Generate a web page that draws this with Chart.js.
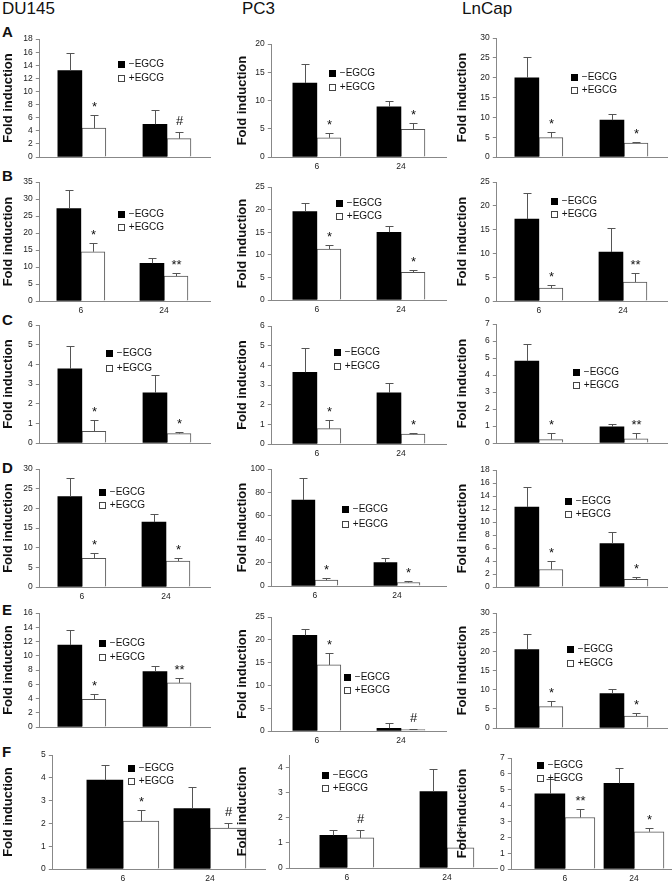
<!DOCTYPE html>
<html><head><meta charset="utf-8">
<script src="https://cdn.jsdelivr.net/npm/chart.js@4"></script>
<style>
body{margin:0;width:672px;height:891px;background:#fff;position:relative;overflow:hidden;font-family:Arial,"Liberation Sans",Helvetica,sans-serif;}
.t{position:absolute;color:#111;white-space:nowrap;line-height:1;}
canvas{position:absolute;}
</style></head><body>
<script>
// ---------- DATA ----------
const categories = ['6', '24'];
const seriesNames = ['\u2212EGCG', '+EGCG'];
const yTitle = 'Fold induction';
const cellLines = ['DU145', 'PC3', 'LnCap'];
const rowLetters = ['A', 'B', 'C', 'D', 'E', 'F'];

// values: [6 h, 24 h]; Err = error bar length; ticks = [max, step]
const A_DU145_minus=[13.2,5.0], A_DU145_minusErr=[2.7,2.2], A_DU145_plus=[4.4,2.8], A_DU145_plusErr=[2.0,1.0], A_DU145_marks=['*','#'], A_DU145_ticks=[18,2];
const A_PC3_minus=[13.1,8.9], A_PC3_minusErr=[3.3,1.0], A_PC3_plus=[3.4,4.9], A_PC3_plusErr=[0.8,1.1], A_PC3_marks=['*','*'], A_PC3_ticks=[20,5];
const A_LnCap_minus=[20.0,9.3], A_LnCap_minusErr=[5.2,1.5], A_LnCap_plus=[4.9,3.5], A_LnCap_plusErr=[1.3,0.3], A_LnCap_marks=['*','*'], A_LnCap_ticks=[30,5];

const B_DU145_minus=[27.2,11.1], B_DU145_minusErr=[5.4,1.5], B_DU145_plus=[14.5,7.3], B_DU145_plusErr=[2.5,0.9], B_DU145_marks=['*','**'], B_DU145_ticks=[35,5];
const B_PC3_minus=[19.6,15.0], B_PC3_minusErr=[1.8,1.4], B_PC3_plus=[11.3,6.1], B_PC3_plusErr=[0.9,0.6], B_PC3_marks=['*','*'], B_PC3_ticks=[25,5];
const B_LnCap_minus=[17.2,10.3], B_LnCap_minusErr=[5.6,5.1], B_LnCap_plus=[2.7,4.0], B_LnCap_plusErr=[0.7,1.9], B_LnCap_marks=['*','**'], B_LnCap_ticks=[25,5];

const C_DU145_minus=[3.77,2.55], C_DU145_minusErr=[1.16,0.93], C_DU145_plus=[0.6,0.48], C_DU145_plusErr=[0.55,0.07], C_DU145_marks=['*','*'], C_DU145_ticks=[6,1];
const C_PC3_minus=[3.65,2.6], C_PC3_minusErr=[1.22,0.5], C_PC3_plus=[0.78,0.5], C_PC3_plusErr=[0.42,0.07], C_PC3_marks=['*','*'], C_PC3_ticks=[6,1];
const C_LnCap_minus=[4.82,0.95], C_LnCap_minusErr=[0.98,0.15], C_LnCap_plus=[0.2,0.25], C_LnCap_plusErr=[0.4,0.35], C_LnCap_marks=['*','**'], C_LnCap_ticks=[7,1];

const D_DU145_minus=[23.0,16.5], D_DU145_minusErr=[4.7,2.1], D_DU145_plus=[7.3,6.6], D_DU145_plusErr=[1.3,0.7], D_DU145_marks=['*','*'], D_DU145_ticks=[30,5];
const D_PC3_minus=[73.5,20.0], D_PC3_minusErr=[19.0,4.0], D_PC3_plus=[5.0,3.0], D_PC3_plusErr=[2.0,1.0], D_PC3_marks=['*','*'], D_PC3_ticks=[100,20];
const D_LnCap_minus=[12.3,6.7], D_LnCap_minusErr=[3.1,1.7], D_LnCap_plus=[2.7,1.2], D_LnCap_plusErr=[1.3,0.3], D_LnCap_marks=['*','*'], D_LnCap_ticks=[18,2];

const E_DU145_minus=[11.5,7.8], E_DU145_minusErr=[2.1,0.8], E_DU145_plus=[3.9,6.2], E_DU145_plusErr=[0.8,0.7], E_DU145_marks=['*','**'], E_DU145_ticks=[16,2];
const E_PC3_minus=[21.0,0.6], E_PC3_minusErr=[1.3,1.1], E_PC3_plus=[14.5,0.3], E_PC3_plusErr=[2.7,0.1], E_PC3_marks=['*','#'], E_PC3_ticks=[25,5];
const E_LnCap_minus=[20.5,9.0], E_LnCap_minusErr=[4.0,1.2], E_LnCap_plus=[5.6,3.1], E_LnCap_plusErr=[1.4,0.9], E_LnCap_marks=['*','*'], E_LnCap_ticks=[30,5];

const F_DU145_minus=[3.9,2.65], F_DU145_minusErr=[0.65,0.95], F_DU145_plus=[2.1,1.8], F_DU145_plusErr=[0.5,0.2], F_DU145_marks=['*','#'], F_DU145_ticks=[5,1];
const F_PC3_minus=[1.3,3.05], F_PC3_minusErr=[0.2,0.9], F_PC3_plus=[1.2,0.8], F_PC3_plusErr=[0.3,0.3], F_PC3_marks=['#','*'], F_PC3_ticks=[4.5,1];
const F_LnCap_minus=[4.75,5.4], F_LnCap_minusErr=[0.9,0.95], F_LnCap_plus=[3.25,2.35], F_LnCap_plusErr=[0.55,0.25], F_LnCap_marks=['**','*'], F_LnCap_ticks=[7,1];

// ---------- LAYOUT (page pixels) ----------
// [axisLeft, axisRight, center6, center24, yTopPx, yZeroPx, titleCenterX, legendBoxX, legendY1, legendY2, barWidth]
const GEOM = [
 [[40,210,82,167,39,157,9,118,63.5,77.5,24],[272,446,317,401,44,157,243,329,72.5,87,24],[497,667,539,624,38,157,463,571,76.5,89.5,24]],
 [[40,210,81,164,182,301,9,118,213.5,226.5,24],[272,446,317,401,187,300,243,336,202.5,215.5,24],[497,667,539,623,182,301,463,551,200.5,213.5,24]],
 [[40,210,82,167,325,443,9,106,352.5,367.5,24],[272,446,317,401,326,444,243,334,352,365.5,24],[497,667,539,624,324,443,463,573,371.5,384.5,24]],
 [[40,210,82,166,469,587,9,99,491.5,504.5,24],[272,446,315,397,469,586,243,342,509,524,23],[497,667,539,624,470,587,463,565,500.5,513.5,24]],
 [[40,210,82,167,613,727,9,99,643,657,24],[272,446,317,401,617,731,243,344,677,690,24],[497,667,539,624,613,728,463,567,649,663,24]],
 [[53,265,123,210,755,869,9,128,768,781,36],[290,497,347,447,755,868,243,322,775,788,27],[512,671,565,634,758,869,463,537,765,778,30]]
];
const ROW_LETTER_Y = [24, 168, 312, 460, 602, 744];
const COL_TITLE_X = [2, 242, 462];

Chart.defaults.font.family = 'Arial, "Liberation Sans", Helvetica, sans-serif';

function txt(s, x, y, size, bold){
  const d=document.createElement('div'); d.className='t'; d.textContent=s;
  d.style.left=x+'px'; d.style.top=y+'px'; d.style.fontSize=size+'px'; if(bold) d.style.fontWeight='bold';
  document.body.appendChild(d);
}
cellLines.forEach((c,i)=>txt(c, COL_TITLE_X[i], 0, 17, false));
rowLetters.forEach((r,i)=>txt(r, 2, ROW_LETTER_Y[i], 15, true));

const extras = {
  id:'extras',
  afterDatasetsDraw(chart, args, o){
    const ctx=chart.ctx, ys=chart.scales.y;
    ctx.save();
    chart.data.datasets.forEach((ds,i)=>{
      const meta=chart.getDatasetMeta(i);
      meta.data.forEach((el,j)=>{
        const v=ds.data[j].y, e=o.errors[i][j];
        const yt=Math.round(ys.getPixelForValue(v+e))+0.5;
        const x=Math.round(el.x)+0.5;
        ctx.strokeStyle='#555'; ctx.lineWidth=1;
        ctx.beginPath(); ctx.moveTo(x,el.y); ctx.lineTo(x,yt);
        ctx.moveTo(x-4,yt); ctx.lineTo(x+4,yt); ctx.stroke();
        if(i===1 && o.marks[j]){
          const m=o.marks[j];
          ctx.fillStyle='#111'; ctx.font='13px Arial, "Liberation Sans", sans-serif';
          ctx.textAlign='center'; ctx.textBaseline='alphabetic';
          const off = m[0]==='*' ? 7.5 : 4.5;
          ctx.fillText(m, x, yt-12+off);
        }
      });
    });
    const L=o.legend;
    ctx.font='10px Arial, "Liberation Sans", sans-serif';
    ctx.textAlign='left'; ctx.textBaseline='middle';
    chart.data.datasets.forEach((ds,i)=>{
      const yy=i===0?L.y1:L.y2;
      const bx=Math.round(L.x)+0.5, by=Math.round(yy-3)+0.5;
      ctx.fillStyle=ds.backgroundColor; ctx.fillRect(bx,by,6,6);
      ctx.strokeStyle=i===0?'#000':'#444'; ctx.lineWidth=1; ctx.strokeRect(bx,by,6,6);
      ctx.fillStyle='#111'; ctx.fillText(ds.label, L.x+11, yy+0.5);
    });
    ctx.restore();
  }
};
Chart.register(extras);

const PANEL_DATA = [
 [[A_DU145_minus,A_DU145_minusErr,A_DU145_plus,A_DU145_plusErr,A_DU145_marks,A_DU145_ticks],[A_PC3_minus,A_PC3_minusErr,A_PC3_plus,A_PC3_plusErr,A_PC3_marks,A_PC3_ticks],[A_LnCap_minus,A_LnCap_minusErr,A_LnCap_plus,A_LnCap_plusErr,A_LnCap_marks,A_LnCap_ticks]],
 [[B_DU145_minus,B_DU145_minusErr,B_DU145_plus,B_DU145_plusErr,B_DU145_marks,B_DU145_ticks],[B_PC3_minus,B_PC3_minusErr,B_PC3_plus,B_PC3_plusErr,B_PC3_marks,B_PC3_ticks],[B_LnCap_minus,B_LnCap_minusErr,B_LnCap_plus,B_LnCap_plusErr,B_LnCap_marks,B_LnCap_ticks]],
 [[C_DU145_minus,C_DU145_minusErr,C_DU145_plus,C_DU145_plusErr,C_DU145_marks,C_DU145_ticks],[C_PC3_minus,C_PC3_minusErr,C_PC3_plus,C_PC3_plusErr,C_PC3_marks,C_PC3_ticks],[C_LnCap_minus,C_LnCap_minusErr,C_LnCap_plus,C_LnCap_plusErr,C_LnCap_marks,C_LnCap_ticks]],
 [[D_DU145_minus,D_DU145_minusErr,D_DU145_plus,D_DU145_plusErr,D_DU145_marks,D_DU145_ticks],[D_PC3_minus,D_PC3_minusErr,D_PC3_plus,D_PC3_plusErr,D_PC3_marks,D_PC3_ticks],[D_LnCap_minus,D_LnCap_minusErr,D_LnCap_plus,D_LnCap_plusErr,D_LnCap_marks,D_LnCap_ticks]],
 [[E_DU145_minus,E_DU145_minusErr,E_DU145_plus,E_DU145_plusErr,E_DU145_marks,E_DU145_ticks],[E_PC3_minus,E_PC3_minusErr,E_PC3_plus,E_PC3_plusErr,E_PC3_marks,E_PC3_ticks],[E_LnCap_minus,E_LnCap_minusErr,E_LnCap_plus,E_LnCap_plusErr,E_LnCap_marks,E_LnCap_ticks]],
 [[F_DU145_minus,F_DU145_minusErr,F_DU145_plus,F_DU145_plusErr,F_DU145_marks,F_DU145_ticks],[F_PC3_minus,F_PC3_minusErr,F_PC3_plus,F_PC3_plusErr,F_PC3_marks,F_PC3_ticks],[F_LnCap_minus,F_LnCap_minusErr,F_LnCap_plus,F_LnCap_plusErr,F_LnCap_marks,F_LnCap_ticks]]
];

const PT=8, PR=1, XH=22, TITLE_HALF=7.8;
PANEL_DATA.forEach((row,r)=>row.forEach((p,c)=>{
  const [minus,minusErr,plus,plusErr,marks,ticks]=p;
  const [x0,x1,c6,c24,yTop,yZero,titleX,legX,legY1,legY2,barW]=GEOM[r][c];
  const YW = x0 - titleX + TITLE_HALF;
  const left = x0 - YW, top = yTop - PT;
  const W = Math.round(x1 - left + PR), H = Math.round(yZero - top + XH);
  const cv=document.createElement('canvas');
  cv.width=W; cv.height=H; cv.style.left=left+'px'; cv.style.top=top+'px';
  cv.style.width=W+'px'; cv.style.height=H+'px';
  document.body.appendChild(cv);
  const unit=c24-c6;
  const xmin=-(c6-x0)/unit, xmax=1+(x1-c24)/unit;
  const toXY=arr=>arr.map((v,i)=>({x:i,y:v}));
  new Chart(cv,{
    type:'bar',
    data:{datasets:[
      {label:seriesNames[0],data:toXY(minus),backgroundColor:'#000',borderColor:'#000',borderWidth:0},
      {label:seriesNames[1],data:toXY(plus),backgroundColor:'#fff',borderColor:'#555',borderWidth:1}
    ]},
    options:{
      responsive:false, animation:false, devicePixelRatio:1,
      layout:{padding:{top:PT,right:PR,bottom:0,left:0}},
      datasets:{bar:{barThickness:barW}},
      plugins:{legend:{display:false},tooltip:{enabled:false},
        extras:{errors:[minusErr,plusErr],marks:marks,legend:{x:legX-left,y1:legY1-top,y2:legY2-top}}},
      scales:{
        x:{type:'linear',min:xmin,max:xmax,offset:false,
           grid:{display:false,drawTicks:false,offset:false},border:{display:true,color:'#888'},
           ticks:{stepSize:1,includeBounds:false,autoSkip:false,maxRotation:0,color:'#222',font:{size:8.5},padding:5,
                  callback:v=>(Number.isInteger(v)&&categories[v]!==undefined)?categories[v]:null},
           afterFit:s=>{s.height=XH;}},
        y:{min:0,max:ticks[0],
           ticks:{stepSize:ticks[1],autoSkip:false,includeBounds:false,color:'#222',font:{size:8.5},padding:3},
           grid:{drawOnChartArea:false,drawTicks:true,tickLength:4,color:'#888'},
           border:{display:true,color:'#888'},
           title:{display:true,text:yTitle,color:'#111',font:{size:13,weight:'bold'},padding:0},
           afterFit:s=>{s.width=YW;}}
      }
    }
  });
}));
</script>
</body></html>
